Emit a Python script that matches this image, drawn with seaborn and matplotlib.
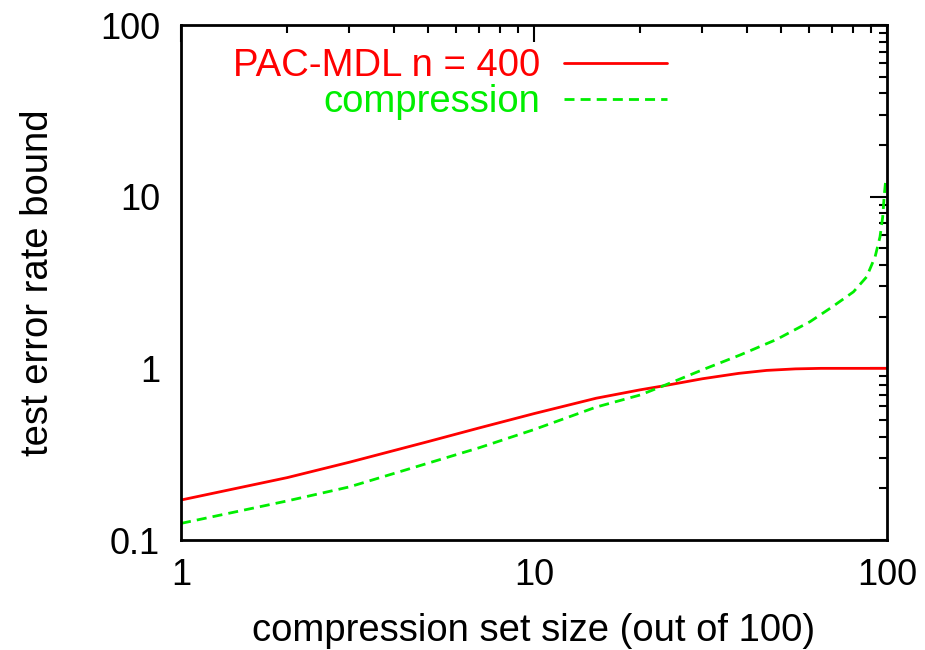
import matplotlib

matplotlib.use("Agg")
import matplotlib.pyplot as plt
import pandas as pd
import seaborn as sns

# values (log-log)
pac_x = [1, 2, 3, 5, 7, 10, 15, 20, 23.2, 30, 38, 45.6, 55, 65, 80, 100]
pac_y = [0.171, 0.231, 0.284, 0.374, 0.45, 0.545, 0.67, 0.75, 0.79, 0.87,
         0.935, 0.973, 0.993, 1.0, 1.0, 1.0]

comp_x = [1, 2, 3, 5, 7, 10, 15, 20, 23.2, 30.2, 38.3, 48.7, 60.5, 69.7,
          80.3, 87.5, 92.5, 95.5, 97.2, 98.1, 99.0]
comp_y = [0.125, 0.169, 0.204, 0.28, 0.345, 0.44, 0.595, 0.70, 0.79, 0.986,
          1.195, 1.475, 1.87, 2.27, 2.79, 3.41, 4.47, 5.84, 7.64, 10.0, 12.2]

pac_label = "PAC-MDL n = 400"
comp_label = "compression"
x_label = "compression set size (out of 100)"
y_label = "test error rate bound"
x_ticks = [1, 10, 100]
y_ticks = [0.1, 1, 10, 100]
tick_labels_y = ["0.1", "1", "10", "100"]

sns.set_style("white")
plt.rcParams["font.family"] = ["Liberation Sans", "DejaVu Sans"]
plt.rcParams["text.color"] = "black"
plt.rcParams["axes.labelcolor"] = "black"
plt.rcParams["xtick.color"] = "black"
plt.rcParams["ytick.color"] = "black"

pac = pd.DataFrame({"x": pac_x, "y": pac_y})
comp = pd.DataFrame({"x": comp_x, "y": comp_y})

fig = plt.figure(figsize=(9.25, 6.5), dpi=100)
ax = fig.add_axes([0.1957, 0.1692, 0.7633, 0.7923])

sns.lineplot(data=pac, x="x", y="y", ax=ax, color="#ff0000", lw=2.0, label=pac_label)
sns.lineplot(data=comp, x="x", y="y", ax=ax, color="#00ee00", lw=2.0,
             dashes=False, label=comp_label)
ax.lines[1].set_dashes((3.6, 2.2))

ax.set_xscale("log")
ax.set_yscale("log")
ax.set_xlim(1, 100)
ax.set_ylim(0.1, 100)
ax.set_xticks(x_ticks)
ax.set_xticklabels([str(t) for t in x_ticks])
ax.set_yticks(y_ticks)
ax.set_yticklabels(tick_labels_y)

ax.tick_params(which="both", direction="in", top=True, right=True, width=1.5,
               color="black", labelsize=26, labelcolor="black")
ax.tick_params(which="major", length=12)
ax.tick_params(which="minor", length=6)
ax.tick_params(axis="x", pad=13)
ax.tick_params(axis="y", pad=15)
for s in ax.spines.values():
    s.set_linewidth(2)
    s.set_color("black")

ax.set_xlabel(x_label, fontsize=27.5, labelpad=14)
ax.set_ylabel(y_label, fontsize=27.5, labelpad=32)

leg = ax.legend(loc="upper right", bbox_to_anchor=(0.688, 0.955), frameon=False,
                markerfirst=False, fontsize=27.5, handlelength=2.7,
                handletextpad=0.6, labelspacing=0.0, borderpad=0, borderaxespad=0)
leg.get_texts()[0].set_color("#ff0000")
leg.get_texts()[1].set_color("#00ee00")

fig.savefig("out.png", dpi=100)
